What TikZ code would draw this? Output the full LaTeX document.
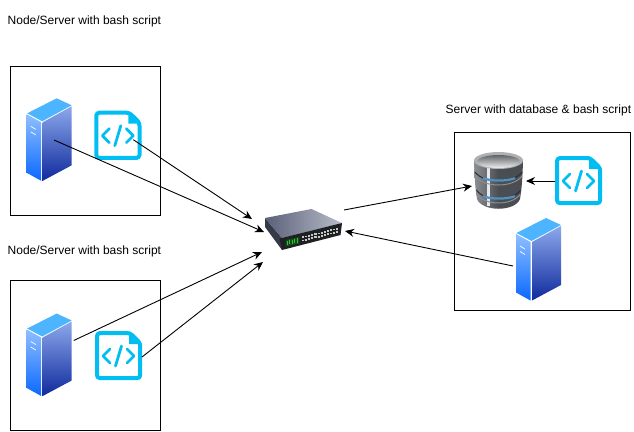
\documentclass[tikz,border=0pt]{standalone}
\usepackage{fontspec}
\setmainfont{Liberation Sans}
\usetikzlibrary{arrows.meta, calc, positioning}
\definecolor{scriptcyan}{HTML}{00BEF2}
\definecolor{srvtop}{HTML}{4DB5FF}
\definecolor{srvlefta}{HTML}{8FBFFF}
\definecolor{srvleftb}{HTML}{0A68FF}
\definecolor{srvrighta}{HTML}{8CA8EC}
\definecolor{srvrightb}{HTML}{0F2A9C}
\definecolor{dbdark}{HTML}{4A4D52}
\definecolor{dbmid}{HTML}{8C8F94}
\definecolor{dbband}{HTML}{4F92C4}
\definecolor{swdark}{HTML}{1E2024}
\definecolor{swtopa}{HTML}{5A6078}
\definecolor{swtopb}{HTML}{B8BCCA}
\definecolor{swled}{HTML}{2FC03A}
\tikzset{
  hostbox/.style={draw=black, line width=0.8pt},
  caption/.style={font=\fontsize{12}{14}\selectfont, anchor=west, inner sep=0pt},
  link/.style={draw=black, line width=0.9pt, -{Stealth[length=9pt, width=8pt]}},
  serverpic/.pic={
    \shade[top color=srvlefta, bottom color=srvleftb] (0,16) -- (14.5,24) -- (14.5,82.5) -- (0,74.5) -- cycle;
    \shade[top color=srvrighta, bottom color=srvrightb] (16,24) -- (45,8) -- (45,67) -- (16,82.5) -- cycle;
    \fill[srvtop] (0.5,15) -- (30,0) -- (45,7) -- (15.5,23) -- cycle;
    \draw[white, line width=0.7pt] (4,28) -- (9,31) (4,33.5) -- (9,36.5);
    \coordinate (-c) at (27.3,41.7);
    \coordinate (-e) at (47,27);
    \coordinate (-w) at (-3,48);
  },
  scriptpic/.pic={
    \draw[scriptcyan, line width=4pt, line join=round, rounded corners=3pt] (2,2) -- (35,2) -- (45.2,12) -- (45.2,47.2) -- (2,47.2) -- cycle;
    \fill[scriptcyan] (34,0) -- (47,13) -- (34,13) -- cycle;
    \draw[scriptcyan, line width=2.8pt, line cap=round, line join=round]
      (15,18) -- (8,25) -- (15,32)  (32,18) -- (39,25) -- (32,32)  (26.5,15) -- (20.5,35);
    \coordinate (-c) at (39,29);
    \coordinate (-e) at (47,26);
    \coordinate (-w) at (0,25);
  },
  dbpic/.pic={
    \shade[left color=dbmid, right color=dbdark, middle color=dbdark] (0,9) .. controls (0.5,25) and (1,35) .. (3,47) .. controls (8,60) and (41,60) .. (46,47) .. controls (48,35) and (48.5,25) .. (49,9) -- cycle;
    \fill[white!80!dbmid] (13,14) rectangle (16,54);
    \draw[dbdark!60!black, line width=1pt] (1,20) .. controls (10,32) and (39,32) .. (48,20);
    \draw[dbdark!60!black, line width=1pt] (2.4,38) .. controls (11,50) and (38,50) .. (46.6,38);
    \draw[dbmid, line width=1pt] (1,24) .. controls (10,36) and (39,36) .. (48,24);
    \draw[dbmid, line width=1pt] (2.4,42) .. controls (11,54) and (38,54) .. (46.6,42);
    \draw[dbband, line width=2.2pt] (9,26.2) .. controls (18,29.4) and (32,29.4) .. (41,26.2);
    \draw[dbband, line width=2.2pt] (9,44.2) .. controls (18,47.4) and (32,47.4) .. (41,44.2);
    \fill[dbmid!70!white] (24.5,8.5) ellipse (24.5 and 8.5);
    \shade[top color=dbmid!70!black, bottom color=white!85!dbmid] (24.5,9.5) ellipse (21.5 and 6.5);
    \coordinate (-w) at (-2,34);
    \coordinate (-e) at (52,29);
  },
  switchpic/.pic={
    \fill[swtopa!60!black] (0,9) -- (0,18) -- (17,41) -- (17,29) -- cycle;
    \shade[left color=swtopa, right color=swtopb] (0,9) -- (46.5,0) -- (77,14) -- (17,29) -- cycle;
    \fill[swdark] (14.5,29.5) -- (77,14) -- (75.5,26) -- (17,41) -- cycle;
    \fill[swled!40!black] (20.5,31) -- (34,28) -- (34,34.5) -- (20.5,37.5) -- cycle;
    \foreach \k in {0,...,4}
      {\fill[swled] ({21.5+2.5*\k},{31.6-0.55*\k}) rectangle ++(1.4,4.4);}
    \foreach \k in {0,...,11}
      {\fill[gray!45] ({37+3.1*\k},{27.4-0.78*\k}) rectangle ++(2.1,1.8);
       \fill[gray!45] ({37+3.1*\k},{30.6-0.78*\k}) rectangle ++(2.1,1.8);}
    \coordinate (-nw) at (-13,10);
    \coordinate (-w) at (-1,23);
    \coordinate (-sw) at (-3,43);
    \coordinate (-se) at (-2,53);
    \coordinate (-ne) at (79,1);
    \coordinate (-e) at (80,22);
  }
}
\begin{document}
\begin{tikzpicture}[x=1pt, y=-1pt]
    \useasboundingbox (0,0) rectangle (634,431);
    % host frames
    \node[hostbox, minimum width=150pt, minimum height=149pt, anchor=north west, inner sep=0pt] (frameA) at (9.5,66) {};
    \node[hostbox, minimum width=150pt, minimum height=150pt, anchor=north west, inner sep=0pt] (frameB) at (9.5,280) {};
    \node[hostbox, minimum width=176pt, minimum height=178pt, anchor=north west, inner sep=0pt] (frameC) at (454,132) {};
    % captions
    \node[caption] (capA) at (7.5,21) {Node/Server with bash script};
    \node[caption] (capB) at (7.5,251) {Node/Server with bash script};
    \node[caption] (capC) at (445.5,110.5) {Server with database \& bash script};
    % icons
    \pic (srvA) at (26.7,98.3) {serverpic};
    \pic (srvB) at (26.7,313.5) {serverpic};
    \pic (srvC) at (516,218) {serverpic};
    \pic (scrA) at (94.3,110.7) {scriptpic};
    \pic (scrB) at (95,331) {scriptpic};
    \pic (scrC) at (555,156) {scriptpic};
    \pic (db) at (474,152) {dbpic};
    \pic (sw) at (265,209) {switchpic};
    % links
    \draw[link] (scrA-c) -- (sw-nw);
    \draw[link] (srvA-c) -- (sw-w);
    \draw[link] (srvB-e) -- (sw-sw);
    \draw[link] (scrB-e) -- (sw-se);
    \draw[link] (sw-ne) -- (db-w);
    \draw[link] (srvC-w) -- (sw-e);
    \draw[link] (scrC-w) -- (db-e);
\end{tikzpicture}
\end{document}
